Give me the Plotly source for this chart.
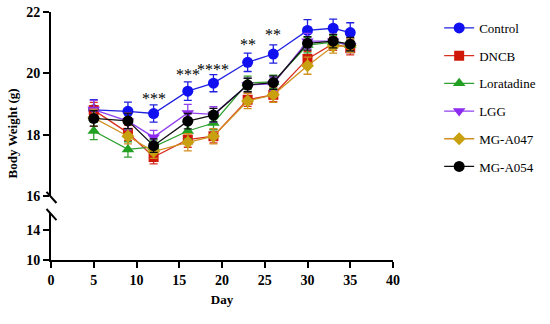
import plotly.graph_objects as go

days = [5, 9, 12, 16, 19, 23, 26, 30, 33, 35]
series_names = ["Control", "DNCB", "Loratadine", "LGG", "MG-A047", "MG-A054"]

control = [18.81, 18.76, 18.69, 19.42, 19.68, 20.36, 20.63, 21.40, 21.47, 21.33]
dncb = [18.80, 18.06, 17.27, 17.84, 17.95, 19.14, 19.30, 20.47, 20.97, 20.82]
loratadine = [18.12, 17.52, 17.60, 18.12, 18.38, 19.69, 19.72, 20.92, 21.02, 20.92]
lgg = [18.82, 18.44, 17.92, 18.71, 18.66, 19.62, 19.66, 21.05, 21.05, 20.90]
mga047 = [18.55, 17.95, 17.45, 17.75, 17.95, 19.10, 19.30, 20.25, 20.88, 20.90]
mga054 = [18.53, 18.45, 17.64, 18.44, 18.64, 19.62, 19.70, 20.98, 21.05, 20.95]

control_err = [0.33, 0.30, 0.28, 0.30, 0.28, 0.30, 0.30, 0.35, 0.30, 0.32]
dncb_err = [0.25, 0.25, 0.22, 0.25, 0.22, 0.22, 0.22, 0.25, 0.22, 0.22]
lora_err = [0.28, 0.25, 0.22, 0.25, 0.22, 0.22, 0.22, 0.25, 0.22, 0.22]
lgg_err = [0.30, 0.28, 0.22, 0.28, 0.25, 0.22, 0.22, 0.25, 0.22, 0.22]
a047_err = [0.28, 0.25, 0.22, 0.28, 0.25, 0.25, 0.25, 0.28, 0.22, 0.22]
a054_err = [0.25, 0.25, 0.22, 0.25, 0.22, 0.22, 0.22, 0.22, 0.22, 0.22]

star_days = [12, 16, 19, 23, 26]
star_labels = ["***", "***", "****", "**", "**"]
star_y = [19.17, 19.96, 20.14, 20.94, 21.26]

y_ticks_upper = [16, 18, 20, 22]
y_ticks_lower = [10, 14]
x_ticks = [0, 5, 10, 15, 20, 25, 30, 35, 40]

values = [control, dncb, loratadine, lgg, mga047, mga054]
errors = [control_err, dncb_err, lora_err, lgg_err, a047_err, a054_err]
styles = [
    dict(color="#1010F0", line="#2020E0", symbol="circle", size=11),
    dict(color="#D01808", line="#D83020", symbol="square", size=10),
    dict(color="#22A022", line="#30A030", symbol="triangle-up", size=11),
    dict(color="#8E2BF0", line="#9040F0", symbol="triangle-down", size=11),
    dict(color="#C8A010", line="#D09020", symbol="diamond", size=10),
    dict(color="#000000", line="#101010", symbol="circle", size=11),
]

FONT = "Liberation Serif"
fig = go.Figure()
for name, vals, err, st in zip(series_names, values, errors, styles):
    fig.add_trace(go.Scatter(
        x=days, y=vals, name=name, mode="lines+markers",
        legendgroup=name,
        line=dict(color=st["line"], width=1.3),
        marker=dict(color=st["color"], symbol=st["symbol"], size=st["size"],
                    line=dict(width=0)),
        error_y=dict(type="data", array=err, visible=True, color=st["line"],
                     thickness=1.3, width=4),
        xaxis="x", yaxis="y",
    ))

# invisible helper so the lower (broken) axis segment is drawn
fig.add_trace(go.Scatter(x=[days[0]], y=[y_ticks_lower[0]], mode="markers",
                         marker=dict(opacity=0), showlegend=False, hoverinfo="skip",
                         xaxis="x", yaxis="y2"))

for d, lab, yy in zip(star_days, star_labels, star_y):
    fig.add_annotation(x=d, y=yy, xref="x", yref="y", text=lab, showarrow=False,
                       font=dict(family=FONT, size=16, color="black"), yanchor="middle")

fig.add_annotation(x=-0.113, y=0.512, xref="paper", yref="paper", text="<b>Body Weight (g)</b>",
                   textangle=-90, showarrow=False, xanchor="center", yanchor="middle",
                   font=dict(family=FONT, size=13, color="black"))

# axis break marks
for (x0, y0, x1, y1) in [(-0.0131, 0.275, 0.016, 0.23), (-0.0131, 0.2056, 0.016, 0.161)]:
    fig.add_shape(type="line", xref="paper", yref="paper", x0=x0, y0=y0, x1=x1, y1=y1,
                  line=dict(color="black", width=2))

tickfont = dict(family=FONT, size=14, color="black", weight="bold")
fig.update_layout(
    width=550, height=324,
    margin=dict(l=50.5, r=157, t=12, b=64, autoexpand=False),
    plot_bgcolor="white", paper_bgcolor="white",
    showlegend=True,
    legend=dict(x=1.135, y=0.996, xanchor="left", yanchor="top",
                font=dict(family=FONT, size=13, color="black"),
                tracegroupgap=7.8, itemwidth=30, bgcolor="rgba(0,0,0,0)"),
    xaxis=dict(range=[0, 40], tickvals=x_ticks, anchor="y2", showline=True, linecolor="black",
               linewidth=2, ticks="outside", ticklen=6, tickwidth=2, tickcolor="black",
               showgrid=False, zeroline=False, tickfont=tickfont, automargin=False,
               title=dict(text="<b>Day</b>", font=dict(family=FONT, size=13, color="black"), standoff=8)),
    yaxis=dict(range=[16, 22], domain=[0.258, 1], tickvals=y_ticks_upper, showline=True,
               linecolor="black", linewidth=2, ticks="outside", ticklen=6, tickwidth=2,
               tickcolor="black", showgrid=False, zeroline=False, tickfont=tickfont,
               automargin=False),
    yaxis2=dict(range=[10, 16.27], domain=[0, 0.19], tickvals=y_ticks_lower, showline=True,
                linecolor="black", linewidth=2, ticks="outside", ticklen=6, tickwidth=2,
                tickcolor="black", showgrid=False, zeroline=False, tickfont=tickfont,
                anchor="x", automargin=False),
)
fig.write_html("out.html", config={"displayModeBar": False},
               post_script="document.body.style.margin='0px';")
